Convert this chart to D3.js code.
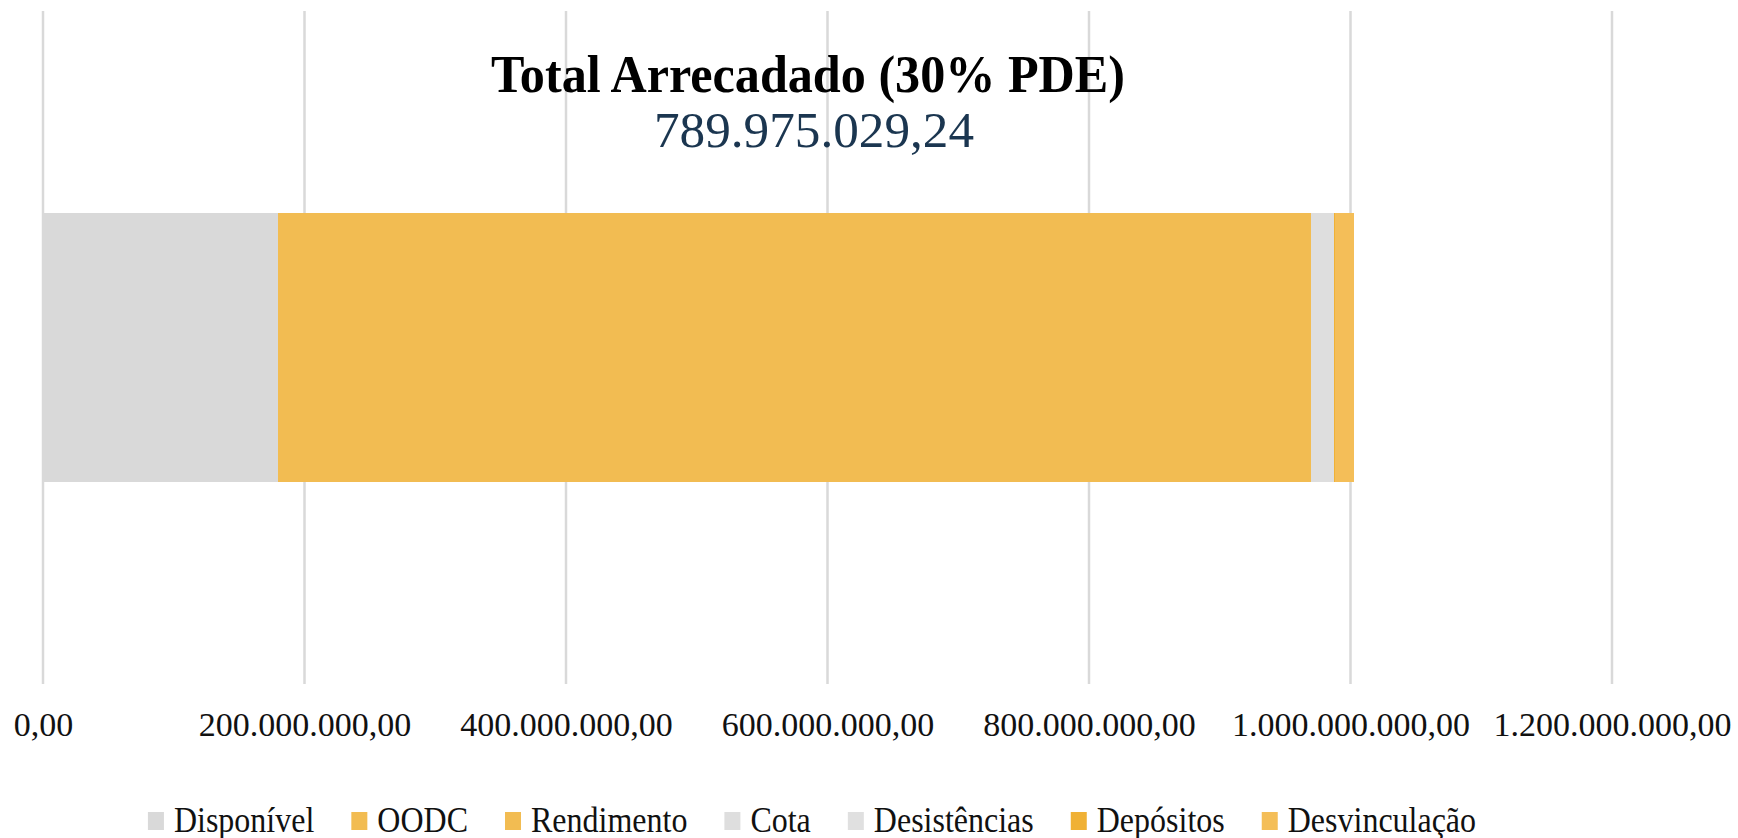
<!DOCTYPE html>
<html>
<head>
<meta charset="utf-8">
<script src="https://cdn.jsdelivr.net/npm/d3@7"></script>
<style>
  body { margin: 0; background: #fff; }
  text { font-family: "Liberation Serif", "DejaVu Serif", serif; }
</style>
</head>
<body>
<div id="graph"></div>
<script>
// dados
var series = ["Disponível", "OODC", "Rendimento", "Cota", "Desistências", "Depósitos", "Desvinculação"]
var values = [180000000, 740000000, 49975029.24, 17300000, 300000, 800000, 14300000]
var colors = ["#D9D9D9", "#F2BC52", "#F2BC52", "#DEDEDE", "#E0E0E0", "#F0B135", "#F4BE58"]
var categories = ["Total"]
var tickValues = [0, 200000000, 400000000, 600000000, 800000000, 1000000000, 1200000000]
var titleText = "Total Arrecadado (30% PDE)"
var totalText = "789.975.029,24"

var width = 1738, height = 838
var svg = d3.select("#graph").append("svg")
            .attr("width", width).attr("height", height)

var locale = d3.formatLocale({decimal: ",", thousands: ".", grouping: [3], currency: ["R$", ""]})
var fmt = locale.format(",.2f")

var x = d3.scaleLinear().domain([0, 1200000000]).range([43, 1612])
var y = d3.scaleBand().domain(categories).range([11, 684]).padding(0.4275)

// grid
svg.append("g").selectAll("line")
   .data(tickValues).enter().append("line")
   .attr("x1", function(d){ return x(d) }).attr("x2", function(d){ return x(d) })
   .attr("y1", 11).attr("y2", 684)
   .attr("stroke", "#D9D9D9").attr("stroke-width", 2.5)

// stacked bar
var stackRow = {}
series.forEach(function(s, i){ stackRow[s] = values[i] })
var stacked = d3.stack().keys(series)([stackRow])

svg.append("g").attr("shape-rendering", "crispEdges")
   .selectAll("rect")
   .data(stacked).enter().append("rect")
   .attr("x", function(d){ return x(d[0][0]) })
   .attr("width", function(d){ return x(d[0][1]) - x(d[0][0]) })
   .attr("y", y("Total"))
   .attr("height", y.bandwidth())
   .attr("fill", function(d, i){ return colors[i] })

// axis
var axis = svg.append("g")
   .attr("transform", "translate(0,712)")
   .call(d3.axisBottom(x).tickValues(tickValues).tickSize(0).tickFormat(fmt))
axis.select(".domain").remove()
axis.selectAll("text")
    .attr("y", 0).attr("dy", 24)
    .style("font-family", "Liberation Serif")
    .style("font-size", "34px")
    .attr("fill", "#111")

// title
svg.append("text")
   .attr("x", 808).attr("y", 92)
   .attr("text-anchor", "middle")
   .style("font-size", "52px").style("font-weight", "bold")
   .attr("fill", "#000")
   .attr("textLength", 634).attr("lengthAdjust", "spacingAndGlyphs")
   .text(titleText)

svg.append("text")
   .attr("x", 814).attr("y", 147)
   .attr("text-anchor", "middle")
   .style("font-size", "50px")
   .attr("fill", "#1B3650")
   .attr("textLength", 320).attr("lengthAdjust", "spacingAndGlyphs")
   .text(totalText)

// legend
var legend = svg.append("g")
var lx = 0
var items = legend.selectAll("g").data(series).enter().append("g")
items.append("rect")
     .attr("width", 16).attr("height", 18)
     .attr("y", -20)
     .attr("fill", function(d, i){ return colors[i] })
items.append("text")
     .attr("x", 26).attr("y", 0)
     .attr("transform", "scale(1,1.12)")
     .style("font-size", "32px").attr("fill", "#111")
     .text(function(d){ return d })
items.each(function(){
   var g = d3.select(this)
   g.attr("transform", "translate(" + lx + ",0)")
   lx += 26 + g.select("text").node().getComputedTextLength() + 37
})
lx -= 37
legend.attr("transform", "translate(" + (812 - lx / 2) + ",832)")
</script>
</body>
</html>
